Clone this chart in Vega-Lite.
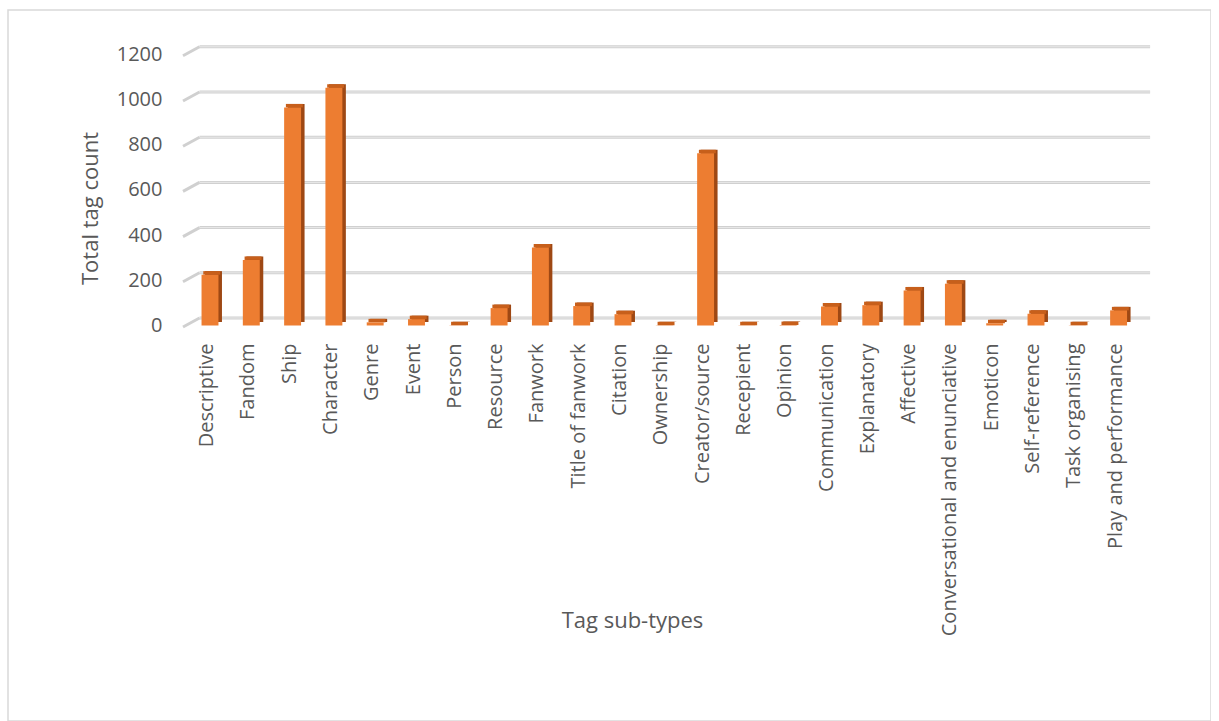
{
  "$schema": "https://vega.github.io/schema/vega-lite/v6.json",
  "width": 1203,
  "height": 711,
  "autosize": {"type": "none"},
  "padding": {"left": 8, "top": 10, "right": 0, "bottom": 0},
  "background": "#ffffff",
  "config": {
    "view": {"stroke": "#d9d9d9", "strokeWidth": 1.5},
    "font": "Open Sans",
    "axis": {"grid": false, "ticks": false, "domain": false, "labels": false, "title": null}
  },
  "datasets": {
    "tags": [
      {"subtype": "Descriptive", "count": 225},
      {"subtype": "Fandom", "count": 290},
      {"subtype": "Ship", "count": 965},
      {"subtype": "Character", "count": 1052},
      {"subtype": "Genre", "count": 14},
      {"subtype": "Event", "count": 28},
      {"subtype": "Person", "count": 1},
      {"subtype": "Resource", "count": 77},
      {"subtype": "Fanwork", "count": 345},
      {"subtype": "Title of fanwork", "count": 86},
      {"subtype": "Citation", "count": 50},
      {"subtype": "Ownership", "count": 1},
      {"subtype": "Creator/source", "count": 762},
      {"subtype": "Recepient", "count": 1},
      {"subtype": "Opinion", "count": 2},
      {"subtype": "Communication", "count": 84},
      {"subtype": "Explanatory", "count": 90},
      {"subtype": "Affective", "count": 155},
      {"subtype": "Conversational and enunciative", "count": 185},
      {"subtype": "Emoticon", "count": 10},
      {"subtype": "Self-reference", "count": 52},
      {"subtype": "Task organising", "count": 1},
      {"subtype": "Play and performance", "count": 67}
    ],
    "ticks": [
      {"v": 0}, {"v": 200}, {"v": 400}, {"v": 600}, {"v": 800}, {"v": 1000}, {"v": 1200}
    ]
  },
  "layer": [
    {
      "data": {"name": "tags"},
      "mark": {"type": "bar", "color": "#ed7d31", "opacity": 0},
      "encoding": {
        "x": {"field": "subtype", "type": "nominal",
          "scale": {"type": "band", "domain": ["Descriptive","Fandom","Ship","Character","Genre","Event","Person","Resource","Fanwork","Title of fanwork","Citation","Ownership","Creator/source","Recepient","Opinion","Communication","Explanatory","Affective","Conversational and enunciative","Emoticon","Self-reference","Task organising","Play and performance"], "paddingInner": 0.59, "paddingOuter": 0.295, "align": 0.5, "range": [181.35, 1131.25]},
          "axis": {"title": "Tag sub-types", "orient": "bottom", "offset": -388, "domain": false, "ticks": false, "tickSize": 0, "grid": false, "labels": true,
            "labelAngle": -90, "labelAlign": "right", "labelBaseline": "middle", "labelPadding": 10, "labelOffset": -3,
            "labelFont": "Open Sans", "labelFontSize": 20, "labelColor": "#595959", "labelOverlap": false, "labelLimit": 400,
            "titleFont": "Open Sans", "titleFontSize": 22, "titleFontWeight": "normal", "titleColor": "#595959",
            "titleX": 624, "titleY": 287, "titleAlign": "center", "titleBaseline": "middle"}},
        "y": {"field": "count", "type": "quantitative",
          "scale": {"domain": [-1750, 1396], "nice": false, "zero": false},
          "axis": {"title": "Total tag count", "orient": "left", "offset": -154, "values": [0, 200, 400, 600, 800, 1000, 1200], "format": "d",
            "domain": false, "ticks": false, "tickSize": 0, "grid": false, "labels": true, "labelPadding": 0,
            "labelFont": "Open Sans", "labelFontSize": 20, "labelColor": "#595959",
            "titleFont": "Open Sans", "titleFontSize": 22, "titleFontWeight": "normal", "titleColor": "#595959",
            "titleX": -72, "titleY": 198, "titleAngle": -90, "titleAlign": "center", "titleBaseline": "middle"}}
      }
    },
    {
      "data": {"name": "ticks"},
      "mark": {"type": "rule", "color": "#d0d0d0", "strokeWidth": 3, "xOffset": -10.5, "x2Offset": 31.5, "yOffset": -7.5},
      "encoding": {
        "x": {"datum": "Descriptive", "type": "nominal"},
        "x2": {"datum": "Play and performance"},
        "y": {"field": "v", "type": "quantitative"}
      }
    },
    {
      "data": {"name": "ticks"},
      "mark": {"type": "rule", "color": "#e9e9e9", "strokeWidth": 1, "xOffset": -10.5, "x2Offset": 31.5, "yOffset": -7.5},
      "encoding": {
        "x": {"datum": "Descriptive", "type": "nominal"},
        "x2": {"datum": "Play and performance"},
        "y": {"field": "v", "type": "quantitative"}
      }
    },
    {
      "data": {"name": "ticks"},
      "mark": {"type": "rule", "color": "#d0d0d0", "strokeWidth": 3, "xOffset": -27, "x2Offset": -10.5, "yOffset": 1.5, "y2Offset": -7.5},
      "encoding": {
        "x": {"datum": "Descriptive", "type": "nominal"},
        "x2": {"datum": "Descriptive"},
        "y": {"field": "v", "type": "quantitative"},
        "y2": {"field": "v"}
      }
    },
    {
      "data": {"name": "tags"},
      "mark": {"type": "bar", "color": "#9e4814", "xOffset": 3.5, "yOffset": -3.5, "y2Offset": -3.5},
      "encoding": {
        "x": {"field": "subtype", "type": "nominal"},
        "y": {"field": "count", "type": "quantitative"}
      }
    },
    {
      "data": {"name": "tags"},
      "mark": {"type": "bar", "color": "#c75f1b", "xOffset": 1.75, "yOffset": -3.5, "y2Offset": 0},
      "encoding": {
        "x": {"field": "subtype", "type": "nominal"},
        "y": {"field": "count", "type": "quantitative"},
        "y2": {"field": "count"}
      }
    },
    {
      "data": {"name": "tags"},
      "mark": {"type": "bar", "color": "#ed7d31"},
      "encoding": {
        "x": {"field": "subtype", "type": "nominal"},
        "y": {"field": "count", "type": "quantitative"}
      }
    }
  ]
}
